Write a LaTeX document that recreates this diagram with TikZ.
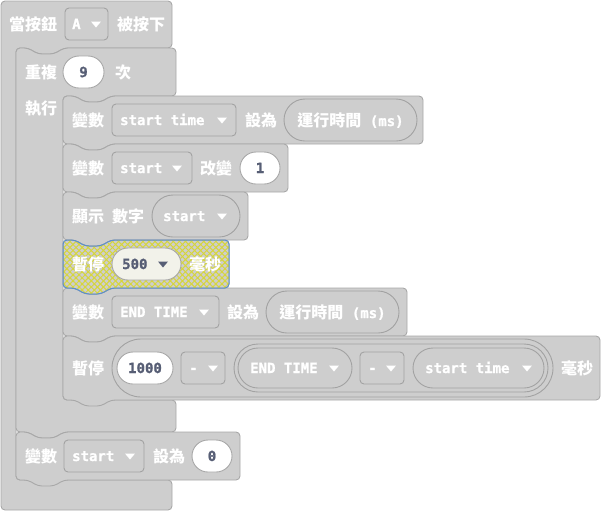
\documentclass[tikz,border=0pt]{standalone}
\usepackage{fontspec}
\usetikzlibrary{patterns.meta}
\newfontfamily\cjk{Noto Sans CJK TC}
\newfontfamily\monof{DejaVu Sans Mono}[BoldFont={DejaVu Sans Mono Bold},BoldFeatures={FakeBold=1.2}]
\definecolor{blk}{HTML}{CECECE}
\definecolor{bdr}{HTML}{A8A8A8}
\definecolor{fldb}{HTML}{A2A2A2}
\definecolor{numc}{HTML}{575E75}
\definecolor{hlb}{HTML}{5C8FCC}
\definecolor{hly}{HTML}{D6D63A}
\definecolor{cream}{HTML}{F2F2EA}
\newcommand\stpath[4]{(#1,#2+10) -- (#1,#2) -- (#1+12,#2) -- ++(10,6) -- ++(16,0) -- ++(10,-6) -- (#3,#2) -- (#3,#4) -- (#1+48,#4) -- ++(-10,6) -- ++(-16,0) -- ++(-10,-6) -- (#1,#4) -- cycle}
\newcommand\pill[5][]{\pgfmathsetmacro\pr{(#5-#3)/2-0.05}\draw[#1,rounded corners=\pr pt] (#2,#3) rectangle (#4,#5);}
\newcommand\tri[3][white]{\fill[#1] (#2-5,#3-2.5) -- (#2+5,#3-2.5) -- (#2,#3+3.5) -- cycle;}
\begin{document}
\begin{tikzpicture}[x=1pt,y=-1pt,
  blockshape/.style={fill=blk,draw=bdr,line width=0.9pt,rounded corners=4pt},
  fieldrect/.style={fill=blk,draw=fldb,line width=0.9pt,rounded corners=4pt},
  wpill/.style={fill=white,draw=bdr,line width=0.9pt},
  gpill/.style={fill=blk,draw=fldb,line width=0.9pt},
  lbl/.style={anchor=west,inner sep=0pt,text=white,font=\fontsize{16}{16}\selectfont\cjk\bfseries,text height=14pt,text depth=2pt},
  mtxt/.style={anchor=west,inner sep=0pt,text=white,font=\fontsize{14}{14}\selectfont\monof\bfseries,text height=10pt,text depth=0pt},
  ntxt/.style={mtxt,text=numc,anchor=center},
]
\useasboundingbox (0,0) rectangle (601,512);
% event block
\path[blockshape] (1,11) -- (1,1) -- (172,1) -- (172,48) -- (64,48) -- ++(-10,6) -- ++(-16,0) -- ++(-10,-6) -- (16,48) -- (16,480) -- (172,480) -- (172,510) -- (1,510) -- cycle;
\node[lbl] (t1) at (9,24) {當按鈕};
\draw[fieldrect] (65,8) rectangle (108,40);
\node[mtxt] (tA) at (72,24) {A};
\tri{96}{24}
\node[lbl] (t2) at (117,24) {被按下};
% repeat block
\path[blockshape] (16,58) -- (16,48) -- (28,48) -- ++(10,6) -- ++(16,0) -- ++(10,-6) -- (176,48) -- (176,96) -- (111,96) -- ++(-10,6) -- ++(-16,0) -- ++(-10,-6) -- (63,96) -- (63,400) -- (176,400) -- (176,432) -- (64,432) -- ++(-10,6) -- ++(-16,0) -- ++(-10,-6) -- (16,432) -- cycle;
\node[lbl] (r1) at (25,72) {重複};
\pill[wpill]{63}{56}{104}{88}
\node[ntxt] (n9) at (83.5,72) {9};
\node[lbl] (r2) at (115,72) {次};
\node[lbl] (r3) at (25,108) {執行};
% stmt 1
\path[blockshape] \stpath{63}{96}{423}{144};
\node[lbl] (s1a) at (72,120) {變數};
\draw[fieldrect] (112,104) rectangle (236,136);
\node[mtxt] (s1b) at (120,120) {start time};
\tri{222}{120}
\node[lbl] (s1c) at (245,120) {設為};
\pill[gpill]{284}{99}{417}{141}
\node[lbl,anchor=center] (s1d) at (350.5,120) {運行時間{\monof\fontsize{14}{14}\selectfont\ (ms)}};
% stmt 2
\path[blockshape] \stpath{63}{144}{288}{192};
\node[lbl] (s2a) at (72,168) {變數};
\draw[fieldrect] (112,152) rectangle (192,184);
\node[mtxt] (s2b) at (120,168) {start};
\tri{177}{168}
\node[lbl] (s2c) at (200,168) {改變};
\pill[wpill]{240}{152}{280}{184}
\node[ntxt] (n1) at (260,168) {1};
% stmt 3
\path[blockshape] \stpath{63}{192}{248}{240};
\node[lbl] (s3a) at (72,216) {顯示};
\node[lbl] (s3b) at (112,216) {數字};
\pill[gpill]{152}{195}{240}{237}
\node[mtxt] (s3c) at (163,216) {start};
\tri{222}{216}
% stmt 5
\path[blockshape] \stpath{63}{288}{407}{336};
\node[lbl] (s5a) at (72,312) {變數};
\draw[fieldrect] (112,296) rectangle (219,328);
\node[mtxt] (s5b) at (120,312) {END TIME};
\tri{204}{312}
\node[lbl] (s5c) at (227,312) {設為};
\pill[gpill]{266}{291}{399}{333}
\node[lbl,anchor=center] (s5d) at (332.5,312) {運行時間{\monof\fontsize{14}{14}\selectfont\ (ms)}};
% stmt 6
\path[blockshape] \stpath{63}{336}{600}{400};
\node[lbl] (s6a) at (72,368) {暫停};
\pill[gpill]{112}{339}{553}{397}
\pill[wpill]{117}{352}{173}{384}
\node[ntxt] (n1000) at (145,368) {1000};
\draw[fieldrect] (181,352) rectangle (225,384);
\node[mtxt] (m1) at (189,368) {-};
\tri{213}{368}
\pill[gpill]{234}{344}{548}{392}
\pill[gpill]{238}{348}{352}{388}
\node[mtxt] (s6b) at (250,368) {END TIME};
\tri{334}{368}
\draw[fieldrect] (360,352) rectangle (404,384);
\node[mtxt] (m2) at (368,368) {-};
\tri{391}{368}
\pill[gpill]{413}{348}{544}{388}
\node[mtxt] (s6c) at (425,368) {start time};
\tri{527}{368}
\node[lbl] (s6d) at (561,368) {毫秒};
% stmt 4 (highlighted)
\path[blockshape] \stpath{63}{240}{229}{288};
\path[pattern={Lines[angle=45,distance=4.3pt,line width=1pt]},pattern color=hly,rounded corners=4pt] \stpath{63}{240}{229}{288};
\path[pattern={Lines[angle=-45,distance=4.3pt,line width=1pt]},pattern color=hly,rounded corners=4pt] \stpath{63}{240}{229}{288};
\draw[hlb,line width=1pt,rounded corners=4pt] \stpath{63}{240}{229}{288};
\node[lbl] (s4a) at (72,264) {暫停};
\pill[fill=cream,draw=bdr,line width=0.9pt]{112}{248}{181}{280}
\node[mtxt,text=numc] (s4b) at (122,264) {500};
\tri[numc]{163}{264}
\node[lbl] (s4c) at (189,264) {毫秒};
% set start
\path[blockshape] \stpath{16}{432}{240}{480};
\node[lbl] (s7a) at (25,456) {變數};
\draw[fieldrect] (64,440) rectangle (144,472);
\node[mtxt] (s7b) at (72,456) {start};
\tri{130}{456}
\node[lbl] (s7c) at (153,456) {設為};
\pill[wpill]{192}{440}{232}{472}
\node[ntxt] (n0) at (212,456) {0};
\end{tikzpicture}
\end{document}
